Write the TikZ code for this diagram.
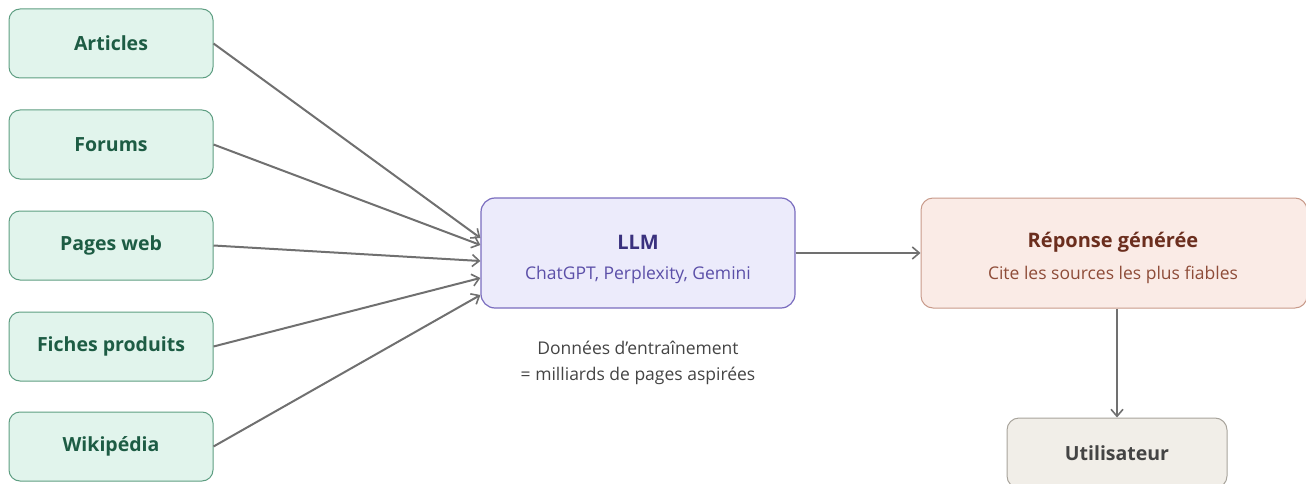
\documentclass[tikz,border=0pt]{standalone}
\usepackage{fontspec}
\setmainfont{Open Sans}
\usetikzlibrary{arrows.meta, positioning}

\definecolor{srcfill}{HTML}{E1F4EC}
\definecolor{srcdraw}{HTML}{5E9E82}
\definecolor{srctext}{HTML}{1D5C44}
\definecolor{llmfill}{HTML}{ECEBFB}
\definecolor{llmdraw}{HTML}{7A6DBF}
\definecolor{llmtext}{HTML}{3A317E}
\definecolor{llmsub}{HTML}{5B4FA8}
\definecolor{repfill}{HTML}{FAEBE6}
\definecolor{repdraw}{HTML}{C89A8A}
\definecolor{reptext}{HTML}{6B2E1E}
\definecolor{repsub}{HTML}{8E4C38}
\definecolor{usrfill}{HTML}{F1EEE8}
\definecolor{usrdraw}{HTML}{A8A49C}
\definecolor{usrtext}{HTML}{444444}
\definecolor{flow}{HTML}{707070}

\tikzset{
	source/.style={draw=srcdraw, fill=srcfill, text=srctext, line width=1pt, rounded corners=11pt,
		minimum width=204pt, minimum height=69pt, font=\fontsize{19.5}{22}\selectfont\bfseries},
	flowarrow/.style={draw=flow, line width=2pt, -{Straight Barb[length=7pt, width=12pt, line width=1.6pt]}},
}

\begin{document}
\begin{tikzpicture}[x=1pt, y=-1pt]
		\useasboundingbox (0,0) rectangle (1306,484);
		% sources
		\foreach \name/\txt/\y in {art/Articles/43.5, frm/Forums/144.5, web/Pages web/245.5, fic/Fiches produits/346.5, wik/Wikipédia/446.5} {
			\node[source] (\name) at (111,\y) {\txt};
		}
		% model
		\node[draw=llmdraw, fill=llmfill, line width=1.2pt, rounded corners=14pt, minimum width=314pt, minimum height=110pt] (llm) at (638,253) {};
		\node[text=llmtext, font=\fontsize{20}{22}\selectfont\bfseries] (llmtitle) at (638,242) {LLM};
		\node[text=llmsub, font=\fontsize{17.5}{20}\selectfont] (llmsub) at (638,275) {ChatGPT, Perplexity, Gemini};
		\node[text=usrtext, font=\fontsize{17.5}{26}\selectfont, align=center] (note) at (638,363) {Données d’entraînement\\= milliards de pages aspirées};
		% answer
		\node[draw=repdraw, fill=repfill, line width=1pt, rounded corners=12pt, minimum width=386pt, minimum height=110pt] (rep) at (1114,253) {};
		\node[text=reptext, font=\fontsize{20}{22}\selectfont\bfseries] (reptitle) at (1113,242) {Réponse générée};
		\node[text=repsub, font=\fontsize{17.5}{20}\selectfont] (repsub) at (1113,275) {Cite les sources les plus fiables};
		\node[draw=usrdraw, fill=usrfill, text=usrtext, line width=1pt, rounded corners=12pt, minimum width=220pt, minimum height=70pt, font=\fontsize{19.5}{22}\selectfont\bfseries] (usr) at (1117,453) {Utilisateur};
		% connectors
		\foreach \name/\dy in {art/15, frm/8, web/-8, fic/-25, wik/-42} {
			\draw[flowarrow] (\name.east) -- ([yshift=\dy pt]llm.west);
		}
		\draw[flowarrow] (llm.east) -- (rep.west);
		\draw[flowarrow] (rep.south -| usr.north) -- (usr.north);
	\end{tikzpicture}
\end{document}
